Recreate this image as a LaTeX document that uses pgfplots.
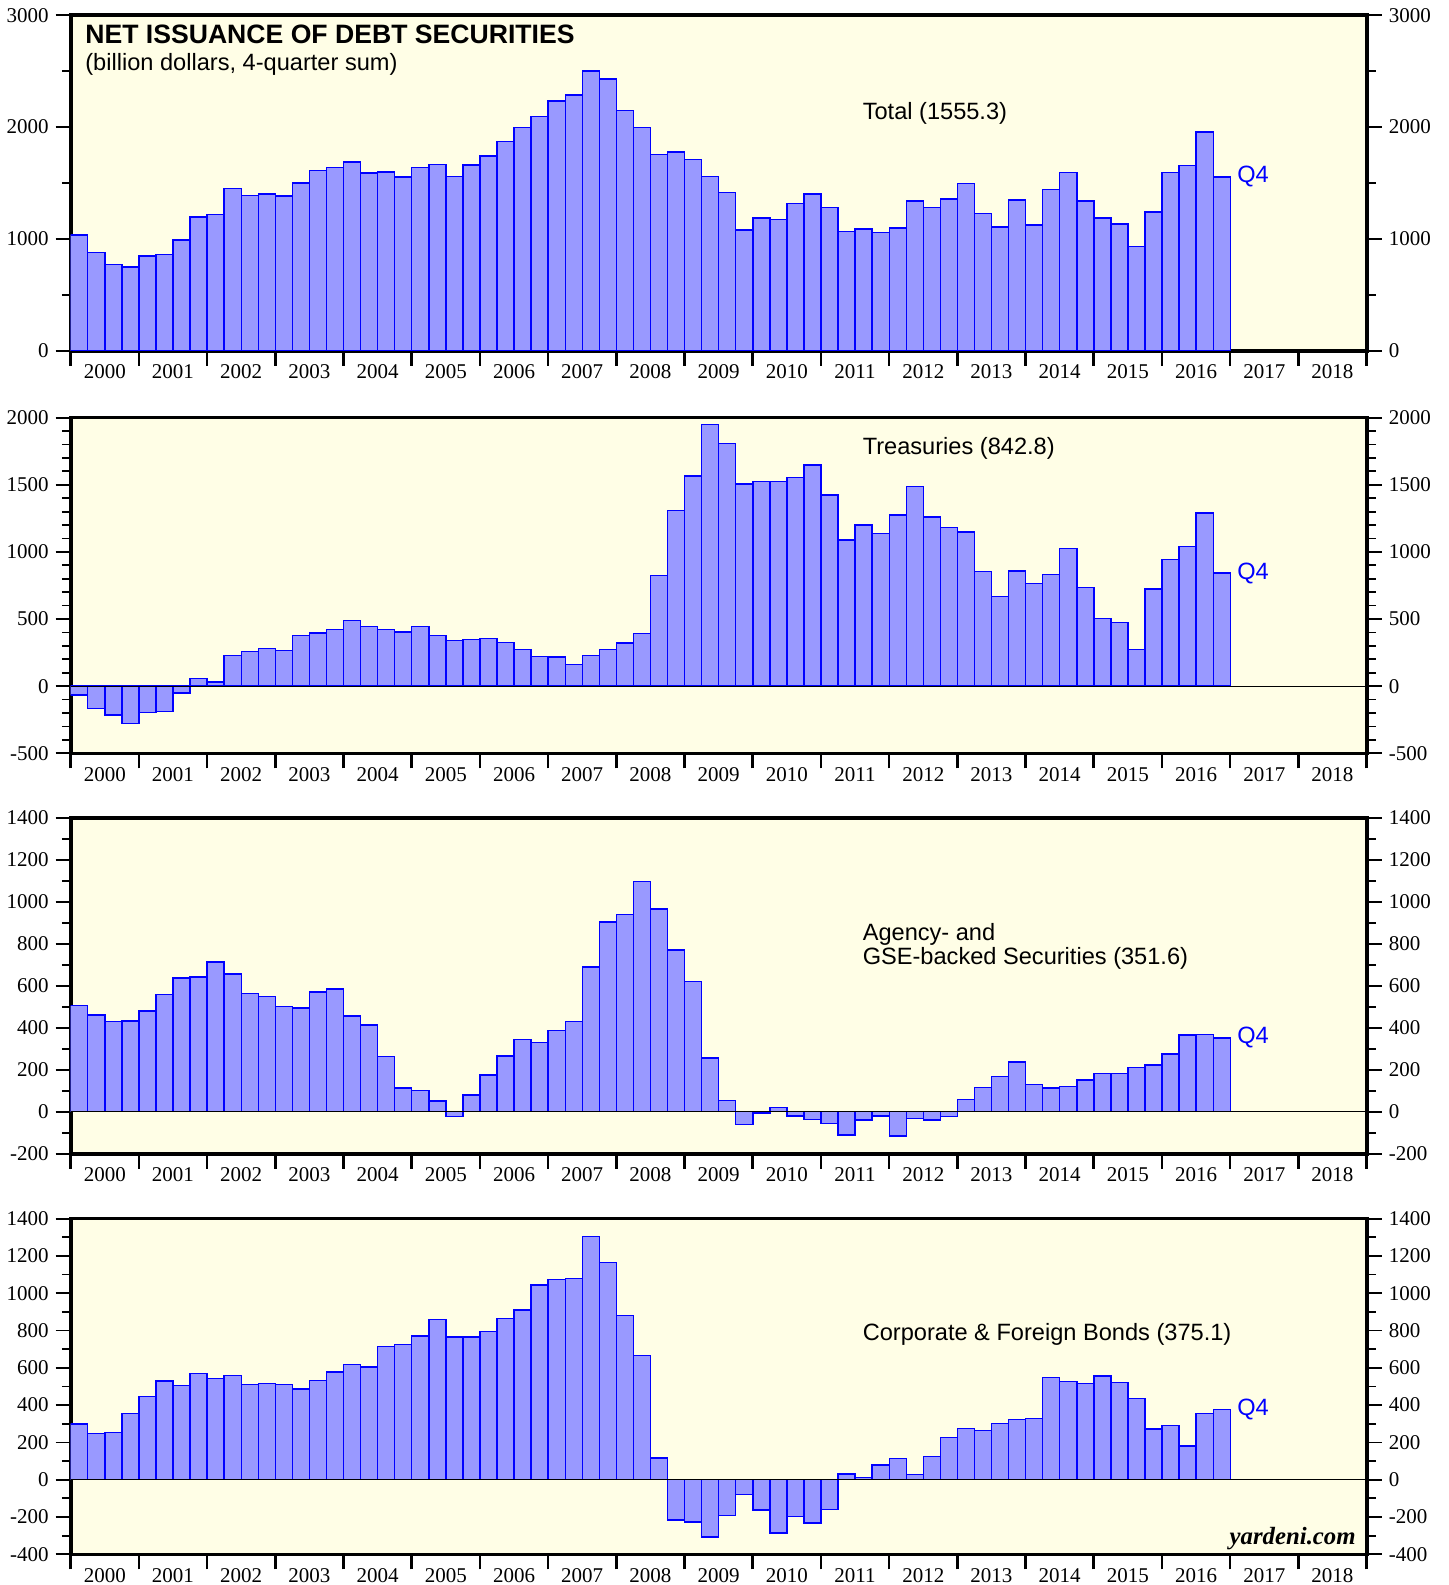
\documentclass[border=0pt]{standalone}
\usepackage{pgfplots}
\usepackage{pgfplotstable}
\pgfplotsset{compat=1.18}
\usepackage{fontspec}
\setmainfont{Liberation Sans}
\newfontfamily\serifnum{Liberation Serif}
\newcommand\ticks{\serifnum\fontsize{10.5}{12}\selectfont}
\newcommand\lab{\fontsize{11.8}{11.8}\selectfont}

\definecolor{bgyellow}{RGB}{255,254,230}
\definecolor{barfill}{RGB}{153,153,255}
\definecolor{edgeblue}{RGB}{0,0,255}

% quarterly, 4-quarter sums, billion dollars
\pgfplotstableread{
x        tot     tre     agy    cor
2000.125 1035    -67     505    299
2000.375 878     -167    462    249
2000.625 774     -216    429    252
2000.875 750     -276    433    354
2001.125 848     -194    481    445
2001.375 860     -187    560    530
2001.625 991     -50     638    504
2001.875 1196    55      643    569
2002.125 1220    32      713    542
2002.375 1449    229     656    560
2002.625 1390    259     565    510
2002.875 1402    281     548    515
2003.125 1384    266     502    510
2003.375 1500    378     495    487
2003.625 1610    396     571    531
2003.875 1637    423     586    578
2004.125 1688    490     456    617
2004.375 1589    445     413    605
2004.625 1598    423     262    714
2004.875 1554    403     114    726
2005.125 1637    443     102    771
2005.375 1667    378     52     860
2005.625 1560    341     -22    766
2005.875 1661    348     79     766
2006.125 1741    353     175    794
2006.375 1872    323     265    866
2006.625 1997    271     343    909
2006.875 2095    219     329    1043
2007.125 2232    216     386    1075
2007.375 2286    162     430    1079
2007.625 2503    229     689    1304
2007.875 2429    274     905    1166
2008.125 2149    321     941    880
2008.375 1994    393     1098   665
2008.625 1756    823     967    116
2008.875 1777    1306    770    -216
2009.125 1708    1565    621    -227
2009.375 1560    1948    256    -308
2009.625 1414    1806    54     -191
2009.875 1080    1507    -60    -79
2010.125 1188    1525    -5     -163
2010.375 1176    1525    19     -286
2010.625 1315    1555    -21    -197
2010.875 1402    1647    -37    -233
2011.125 1280    1425    -57    -161
2011.375 1068    1090    -111   30
2011.625 1089    1201    -40    11
2011.875 1060    1139    -21    79
2012.125 1098    1276    -116   114
2012.375 1339    1485    -33    27
2012.625 1283    1259    -40    123
2012.875 1357    1182    -24    225
2013.125 1497    1147    59     274
2013.375 1226    853     117    265
2013.625 1107    669     167    301
2013.875 1348    858     238    324
2014.125 1125    766     129    327
2014.375 1440    833     114    547
2014.625 1595    1025    119    526
2014.875 1339    734     151    517
2015.125 1188    505     181    556
2015.375 1134    473     181    521
2015.625 932     271     210    436
2015.875 1241    724     222    272
2016.125 1595    945     275    290
2016.375 1658    1042    365    181
2016.625 1955    1289    367    356
2016.875 1555.3  842.8   351.6  375.1
}\data

\pgfplotsset{
  base/.style={
    width=648pt, height=167.85pt, scale only axis,
    anchor=north west,
    xmin=2000, xmax=2019,
    tick align=outside,
    major tick length=7.5pt, minor tick length=4.4pt,
    tick label style={font=\ticks},
  },
  panel/.style={
    base,
    axis background/.style={fill=bgyellow},
    axis line style={line width=1.8pt, black},
    ybar, bar width=0.25, bar shift=0pt,
    xtick={2000,...,2019},
    xticklabels={2000,2001,2002,2003,2004,2005,2006,2007,2008,2009,2010,2011,2012,2013,2014,2015,2016,2017,2018},
    x tick label as interval,
    xtick pos=left,
    xticklabel style={yshift=4pt},
    ytick pos=both, yticklabel pos=left,
    x tick style={black, line width=1.3pt},
    y tick style={black, line width=0.9pt},
  },
  rightlab/.style={
    base,
    hide x axis,
    axis line style={draw=none},
    ytick pos=right, yticklabel pos=right,
    y tick style={draw=none},
  },
  bars/.style={fill=barfill, draw=edgeblue, line width=0.7pt},
}

\begin{document}
\begin{tikzpicture}
\path[use as bounding box] (-35.35pt,7.6pt) rectangle (688.65pt,-784.9pt);

% ---------- Total
\begin{axis}[panel, at={(0pt,0pt)},
  ymin=0, ymax=3000, ytick={0,1000,2000,3000},
  yticklabels={0,1000,2000,3000}, minor y tick num=1]
\addplot[bars] table[x=x,y=tot]{\data};
\node[anchor=base west, xshift=3.8pt, yshift=-14pt, font=\bfseries\fontsize{13.3}{15}\selectfont]
  at (rel axis cs:0,1) {NET ISSUANCE OF DEBT SECURITIES};
\node[anchor=base west, xshift=3.8pt, yshift=-27.7pt, font=\lab]
  at (rel axis cs:0,1) {(billion dollars, 4-quarter sum)};
\node[anchor=base west, xshift=392.5pt, yshift=-51.9pt, font=\lab]
  at (rel axis cs:0,1) {Total (1555.3)};
\node[anchor=west, font=\lab, text=edgeblue] at (axis cs:2017,1555.3) {Q4};
\end{axis}
\begin{axis}[rightlab, at={(0pt,0pt)},
  ymin=0, ymax=3000, ytick={0,1000,2000,3000},
  yticklabels={0,1000,2000,3000}]
\end{axis}

% ---------- Treasuries
\begin{axis}[panel, at={(0pt,-201.2pt)},
  ymin=-500, ymax=2000, ytick={-500,0,500,1000,1500,2000},
  yticklabels={-500,0,500,1000,1500,2000}, minor y tick num=4]
\addplot[bars] table[x=x,y=tre]{\data};
\draw[black, line width=0.5pt] (axis cs:2000,0) -- (axis cs:2019,0);
\node[anchor=base west, xshift=392.5pt, yshift=-18.4pt, font=\lab]
  at (rel axis cs:0,1) {Treasuries (842.8)};
\node[anchor=west, font=\lab, text=edgeblue] at (axis cs:2017,842.8) {Q4};
\end{axis}
\begin{axis}[rightlab, at={(0pt,-201.2pt)},
  ymin=-500, ymax=2000, ytick={-500,0,500,1000,1500,2000},
  yticklabels={-500,0,500,1000,1500,2000}]
\end{axis}

% ---------- Agency
\begin{axis}[panel, at={(0pt,-401.4pt)},
  ymin=-200, ymax=1400, ytick={-200,0,200,400,600,800,1000,1200,1400},
  yticklabels={-200,0,200,400,600,800,1000,1200,1400}, minor y tick num=1]
\addplot[bars] table[x=x,y=agy]{\data};
\draw[black, line width=0.5pt] (axis cs:2000,0) -- (axis cs:2019,0);
\node[anchor=base west, xshift=392.5pt, yshift=-61.3pt, font=\lab]
  at (rel axis cs:0,1) {Agency- and};
\node[anchor=base west, xshift=392.5pt, yshift=-73.1pt, font=\lab]
  at (rel axis cs:0,1) {GSE-backed Securities (351.6)};
\node[anchor=west, font=\lab, text=edgeblue] at (axis cs:2017,351.6) {Q4};
\end{axis}
\begin{axis}[rightlab, at={(0pt,-401.4pt)},
  ymin=-200, ymax=1400, ytick={-200,0,200,400,600,800,1000,1200,1400},
  yticklabels={-200,0,200,400,600,800,1000,1200,1400}]
\end{axis}

% ---------- Corporate & foreign
\begin{axis}[panel, at={(0pt,-601.7pt)},
  ymin=-400, ymax=1400, ytick={-400,-200,0,200,400,600,800,1000,1200,1400},
  yticklabels={-400,-200,0,200,400,600,800,1000,1200,1400}, minor y tick num=1]
\addplot[bars] table[x=x,y=cor]{\data};
\draw[black, line width=0.5pt] (axis cs:2000,0) -- (axis cs:2019,0);
\node[anchor=base west, xshift=392.5pt, yshift=-61.1pt, font=\lab]
  at (rel axis cs:0,1) {Corporate \& Foreign Bonds (375.1)};
\node[anchor=west, font=\lab, text=edgeblue] at (axis cs:2017,375.1) {Q4};
\node[anchor=base east, xshift=-2pt, yshift=5.1pt, font=\serifnum\bfseries\itshape\fontsize{12.4}{14}\selectfont]
  at (rel axis cs:1,0) {yardeni.com};
\end{axis}
\begin{axis}[rightlab, at={(0pt,-601.7pt)},
  ymin=-400, ymax=1400, ytick={-400,-200,0,200,400,600,800,1000,1200,1400},
  yticklabels={-400,-200,0,200,400,600,800,1000,1200,1400}]
\end{axis}
\end{tikzpicture}
\end{document}
